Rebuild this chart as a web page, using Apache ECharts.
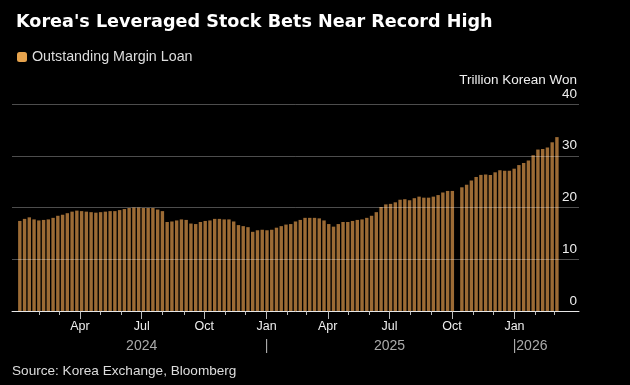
<!DOCTYPE html>
<html>
<head>
<meta charset="utf-8">
<script src="https://cdn.jsdelivr.net/npm/echarts@6/dist/echarts.min.js"></script>
<style>
  html, body { margin: 0; padding: 0; background: #000; }
  #chart { width: 630px; height: 385px; }
</style>
</head>
<body>
<div id="chart"></div>
<script>
// Weekly readings of outstanding margin loans (trillion won), weeks starting Mon 2024-01-01
const weekStart = '2024-01-01';
const weeklyLoan = [
  17.4, 17.8, 18.1, 17.7, 17.5, 17.6, 17.7, 18.0, 18.4, 18.6,
  18.9, 19.2, 19.4, 19.3, 19.2, 19.1, 19.0, 19.1, 19.2, 19.3,
  19.3, 19.5, 19.7, 19.9, 20.0, 20.0, 19.9, 19.9, 19.9, 19.6,
  19.3, 17.2, 17.3, 17.5, 17.7, 17.6, 16.9, 16.8, 17.2, 17.4,
  17.5, 17.8, 17.8, 17.7, 17.7, 17.3, 16.6, 16.4, 16.2, 15.3,
  15.6, 15.7, 15.6, 15.7, 16.1, 16.4, 16.7, 16.8, 17.3, 17.6,
  18.0, 18.0, 18.0, 17.9, 17.5, 16.8, 16.3, 16.8, 17.2, 17.2,
  17.4, 17.6, 17.7, 18.0, 18.4, 19.1, 20.1, 20.6, 20.7, 21.0,
  21.5, 21.6, 21.4, 21.8, 22.1, 21.9, 21.9, 22.1, 22.4, 22.9,
  23.2, 23.2, null, 23.9, 24.4, 25.2, 25.9, 26.3, 26.4, 26.3,
  26.8, 27.2, 27.1, 27.1, 27.5, 28.2, 28.6, 29.1, 30.1, 31.2,
  31.3, 31.6, 32.6, 33.6
];
const seriesName = 'Outstanding Margin Loan';
const monthTicks = [
  '2024-02-01','2024-03-01','2024-05-01','2024-06-01','2024-08-01','2024-09-01',
  '2024-11-01','2024-12-01','2025-02-01','2025-03-01','2025-05-01','2025-06-01',
  '2025-08-01','2025-09-01','2025-11-01','2025-12-01','2026-02-01','2026-03-01'
];
const quarterTicks = ['2024-04-01','2024-07-01','2024-10-01','2025-01-01','2025-04-01','2025-07-01','2025-10-01','2026-01-01'];
const quarterLabels = ['Apr','Jul','Oct','Jan','Apr','Jul','Oct','Jan'];
const yearTicks = ['2024-07-01','2025-01-01','2025-07-01','2026-01-01'];
const yearLabels = ['2024','|','2025','|2026'];
const yTicks = [0, 10, 20, 30, 40];

const DAY = 864e5;
const t = s => Date.parse(s + 'T00:00:00Z');
const t0 = t(weekStart);
const barData = weeklyLoan.map((v, i) => [t0 + (i * 7 + 2.5) * DAY, v]);
const xMin = t('2023-12-23');
const xMax = t('2026-04-06');

const qMap = {}; quarterTicks.forEach((d, i) => qMap[t(d)] = quarterLabels[i]);
const yMap = {}; yearTicks.forEach((d, i) => yMap[t(d)] = yearLabels[i]);

const font = 'Liberation Sans';
const chart = echarts.init(document.getElementById('chart'), null, { renderer: 'canvas' });
const baseX = { type: 'value', min: xMin, max: xMax, position: 'bottom', gridIndex: 0, splitLine: { show: false } };

chart.setOption({
  backgroundColor: '#000',
  animation: false,
  title: {
    text: "Korea's Leveraged Stock Bets Near Record High",
    left: 11, top: 8,
    textStyle: { color: '#fff', fontSize: 17.6, fontWeight: 'bold', fontFamily: 'DejaVu Sans' }
  },
  legend: {
    left: 12, top: 45,
    itemWidth: 10, itemHeight: 10,
    icon: 'roundRect',
    data: [{ name: seriesName, itemStyle: { color: '#e6a34d' } }],
    textStyle: { color: '#ddd', fontSize: 14.3, fontFamily: font, padding: [0, 0, 0, 0] }
  },
  graphic: [{
    type: 'text', left: 12, top: 364,
    style: { text: 'Source: Korea Exchange, Bloomberg', fill: '#ddd', fontSize: 13.6, fontFamily: font }
  }],
  grid: { left: 12, right: 51, top: 104, bottom: 74 },
  xAxis: [
    Object.assign({}, baseX, {
      axisLine: { show: true, lineStyle: { color: '#ddd', width: 1 } },
      axisTick: { show: true, customValues: monthTicks.map(t), length: 4, lineStyle: { color: '#bbb' } },
      axisLabel: { show: false }
    }),
    Object.assign({}, baseX, {
      axisLine: { show: false },
      axisTick: { show: true, customValues: quarterTicks.map(t), length: 8, lineStyle: { color: '#bbb' } },
      axisLabel: {
        show: true, customValues: quarterTicks.map(t), margin: 9,
        color: '#eee', fontSize: 12.5, fontFamily: font,
        formatter: v => qMap[v] || ''
      }
    }),
    Object.assign({}, baseX, {
      axisLine: { show: false },
      axisTick: { show: false },
      axisLabel: {
        show: true, customValues: yearTicks.map(t), margin: 28,
        color: '#aaa', fontSize: 14, fontFamily: font,
        formatter: v => {
          const s = yMap[v] || '';
          if (s.length > 1 && s[0] === '|') return '{h|' + s.slice(1) + '}' + s;
          return s;
        },
        rich: { h: { color: 'rgba(0,0,0,0)', fontSize: 14, fontFamily: font } }
      }
    })
  ],
  yAxis: {
    type: 'value', position: 'right', min: 0, max: 40, interval: 10, z: 5,
    name: 'Trillion Korean Won', nameLocation: 'end', nameGap: 21,
    nameTextStyle: { color: '#eee', fontSize: 13.5, fontFamily: font, align: 'right', verticalAlign: 'middle', padding: [0, 2, 0, 0] },
    axisLine: { show: false }, axisTick: { show: false },
    axisLabel: {
      inside: true, margin: 2, verticalAlign: 'bottom', color: '#eee', fontSize: 13.5, fontFamily: font,
      padding: [0, 0, 3, 0],
      formatter: v => yTicks.includes(v) ? String(v) : ''
    },
    splitLine: { show: true, lineStyle: { color: 'rgba(255,255,255,0.3)', width: 1 } }
  },
  series: [{
    name: seriesName,
    type: 'bar',
    xAxisIndex: 0,
    data: barData,
    barWidth: 3.4,
    itemStyle: { color: '#9c6b35' }
  }]
});
</script>
</body>
</html>
